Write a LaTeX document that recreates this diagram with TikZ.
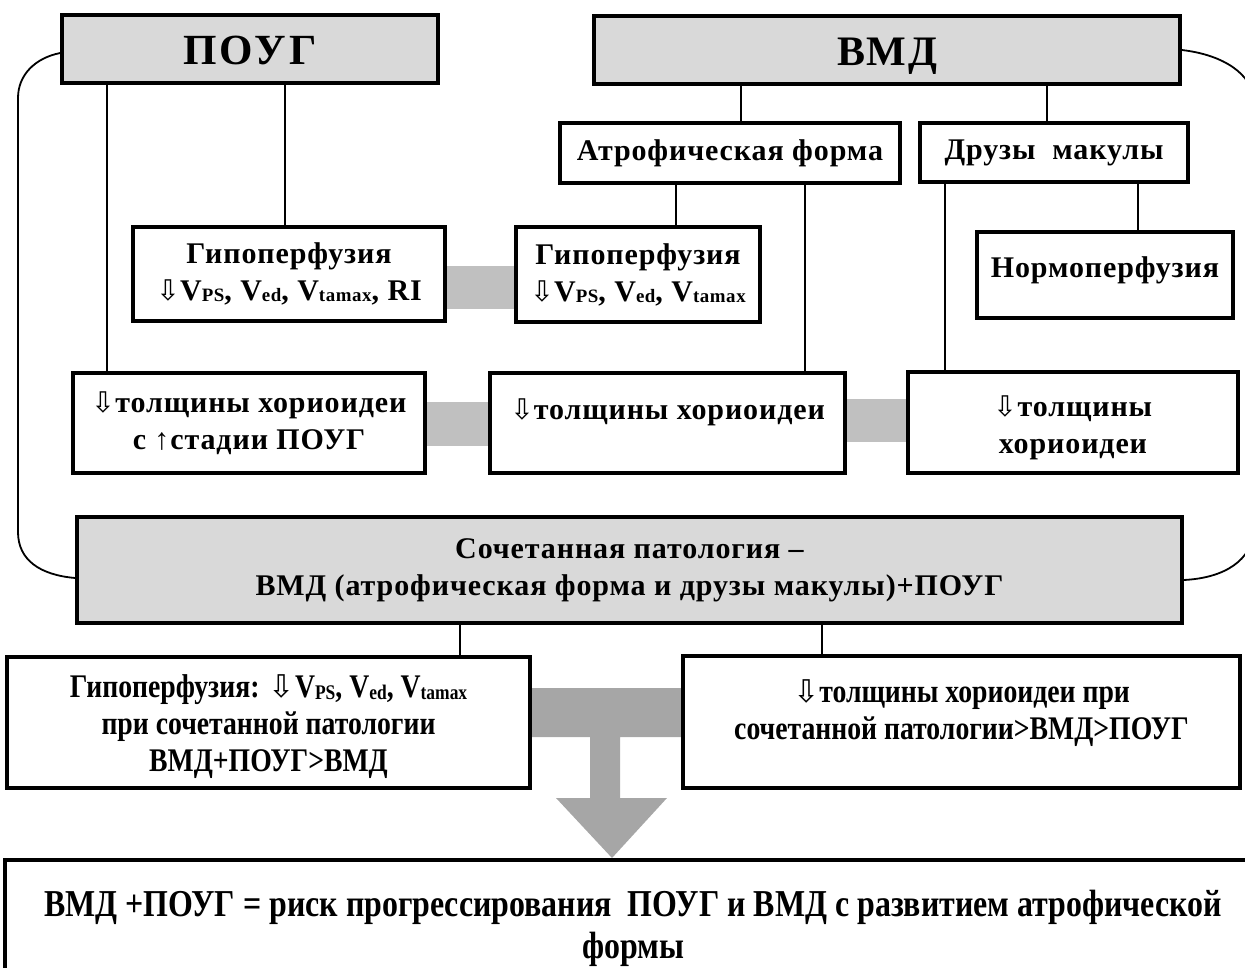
\documentclass[tikz,border=0pt]{standalone}
\usepackage{fontspec}
\setmainfont{Liberation Serif}[LetterSpace=3]
\newfontfamily\titlef{Liberation Serif}[LetterSpace=4]
\newfontfamily\titlefw{Liberation Serif}[LetterSpace=8]
\newfontfamily\symf{DejaVu Sans}
\newfontfamily\condf{Liberation Serif}[FakeStretch=0.84]
\usetikzlibrary{backgrounds}
\definecolor{boxgray}{HTML}{D9D9D9}
\definecolor{bandgray}{HTML}{C0C0C0}
\definecolor{tgray}{HTML}{A6A6A6}
\makeatletter
\newcommand{\dn}{{\symf\mdseries\fontsize{\the\dimexpr 0.95\dimexpr\f@size pt\relax\relax}{0pt}\selectfont ⇩}}
\newcommand{\lo}[1]{\raisebox{-0.1ex}{\fontsize{\the\dimexpr 0.63\dimexpr\f@size pt\relax\relax}{0pt}\selectfont #1}}
\makeatother
\tikzset{
  box/.style={draw, line width=3.5pt, fill=white, align=center, inner sep=0pt,
    font=\bfseries\fontsize{30}{37}\selectfont},
  gbox/.style={box, fill=boxgray},
  tbox/.style={gbox, font=\titlef\bfseries\fontsize{42}{42}\selectfont, text height=31pt, text depth=0pt},
  cbox/.style={box, font=\condf\bfseries\fontsize{33}{37}\selectfont},
  conn/.style={line width=1.8pt},
  band/.style={fill=bandgray},
  tband/.style={fill=tgray},
}
\begin{document}
\begin{tikzpicture}[x=1pt,y=-1pt]
\useasboundingbox (0,0) rectangle (1245,968);
\clip (0,0) rectangle (1245,968);
% top level
\node[tbox, minimum width=376, minimum height=68, font=\titlefw\bfseries\fontsize{43}{43}\selectfont] (poug) at (250,49) {ПОУГ};
\node[tbox, minimum width=586, minimum height=68] (vmd) at (887,50) {ВМД};
% second level
\node[box, minimum width=340, minimum height=60] (atr) at (730,153) {Атрофическая форма};
\node[box, minimum width=268, minimum height=59] (dru) at (1054,152.5) {Друзы~ макулы};
% perfusion
\node[box, minimum width=312, minimum height=94] (hypL) at (289,274) {Гипоперфузия\\\dn V\lo{PS}, V\lo{ed}, V\lo{tamax}, RI};
\node[box, minimum width=244, minimum height=95] (hypM) at (638,274.5) {Гипоперфузия\\\dn V\lo{PS}, V\lo{ed}, V\lo{tamax}};
\node[box, minimum width=256, minimum height=86] (norm) at (1105,275) {Нормоперфузия\\[-22pt]\mbox{}};
% choroid thickness
\node[box, minimum width=352, minimum height=100] (thL) at (249,423) {\dn толщины хориоидеи\\с ↑стадии ПОУГ};
\node[box, minimum width=355, minimum height=100] (thM) at (667.5,423) {\dn толщины хориоидеи\\[-10pt]\mbox{}};
\node[box, minimum width=330, minimum height=101] (thR) at (1073,422.5) {\mbox{}\\[-5pt]\dn толщины\\хориоидеи};
% combined
\node[gbox, minimum width=1105, minimum height=106] (soc) at (629.5,570) {Сочетанная патология –\\ВМД (атрофическая форма и друзы макулы)+ПОУГ};
% bottom results
\node[cbox, minimum width=523, minimum height=131] (botL) at (268.5,722.5) {\mbox{}\\[-5pt]Гипоперфузия: \dn V\lo{PS}, V\lo{ed}, V\lo{tamax}\\при сочетанной патологии\\ВМД+ПОУГ>ВМД};
\node[cbox, minimum width=557, minimum height=132] (botR) at (961.5,722) {\dn толщины хориоидеи при\\сочетанной патологии>ВМД>ПОУГ\\[-12pt]\mbox{}};
% final
\node[cbox, minimum width=1256, minimum height=150, font=\condf\bfseries\fontsize{38}{42}\selectfont] (fin) at (633,935) {ВМД +ПОУГ = риск прогрессирования~ ПОУГ и ВМД с развитием атрофической\\формы\\[-20pt]\mbox{}};
% connectors
\draw[conn] (poug.south -| 285,0) -- (hypL.north -| 285,0);
\draw[conn] (poug.south -| 107,0) -- (thL.north -| 107,0);
\draw[conn] (vmd.south -| 741,0) -- (atr.north -| 741,0);
\draw[conn] (vmd.south -| 1047,0) -- (dru.north -| 1047,0);
\draw[conn] (atr.south -| 676,0) -- (hypM.north -| 676,0);
\draw[conn] (atr.south -| 805,0) -- (thM.north -| 805,0);
\draw[conn] (dru.south -| 1138,0) -- (norm.north -| 1138,0);
\draw[conn] (dru.south -| 945,0) -- (thR.north -| 945,0);
\draw[conn] (soc.south -| 460,0) -- (botL.north -| 460,0);
\draw[conn] (soc.south -| 822,0) -- (botR.north -| 822,0);
% side curves
\draw[conn] (poug.west |- 0,53) .. controls (35,58) and (18,75) .. (18,98) -- (18,532) .. controls (18,560) and (40,575) .. (soc.west |- 0,578);
\draw[conn] (vmd.east |- 0,50) .. controls (1225,55) and (1252,75) .. (1254,100) -- (1254,530) .. controls (1252,560) and (1225,578) .. (soc.east |- 0,580);
% bands
\begin{scope}[on background layer]
\fill[band] (hypL.east |- 0,266) rectangle (hypM.west |- 0,309);
\fill[band] (thL.east |- 0,402) rectangle (thM.west |- 0,446);
\fill[band] (thM.east |- 0,399) rectangle (thR.west |- 0,442);
\fill[tband] (botL.east |- 0,688) -- (botR.west |- 0,688) -- (botR.west |- 0,737) -- (620,737) -- (620,798) -- (667,798) -- (612,858) -- (556,798) -- (590,798) -- (590,737) -- (botL.east |- 0,737) -- cycle;
\end{scope}
\end{tikzpicture}
\end{document}
